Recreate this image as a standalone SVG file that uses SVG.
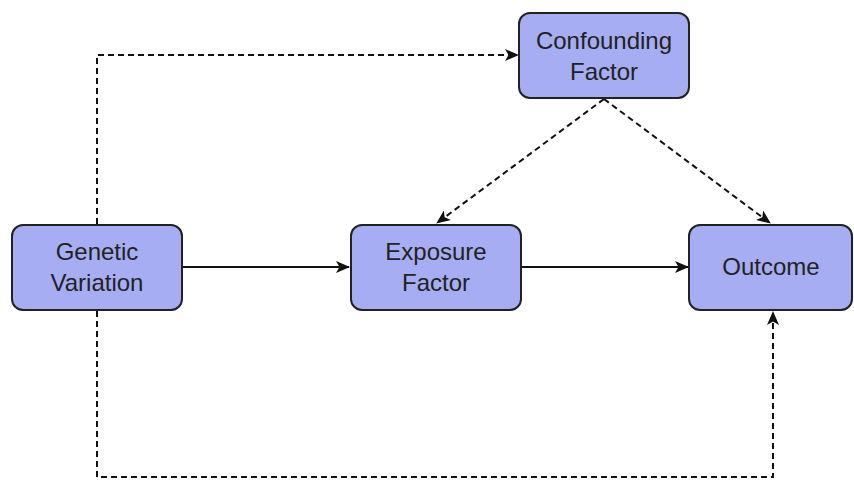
<svg xmlns="http://www.w3.org/2000/svg" width="854" height="480" viewBox="0 0 854 480">
<defs>
<style>
.node rect{fill:#a7adf2;stroke:#222;stroke-width:2}
.node text{font-family:"Liberation Sans",Arial,sans-serif;font-size:24px;fill:#222;text-anchor:middle}
.conn path{fill:none;stroke:#111;stroke-width:2}
.conn .dash{stroke-dasharray:6 4}
</style>
<marker id="arr" viewBox="0 0 14 12" refX="13" refY="6" markerWidth="14" markerHeight="12" markerUnits="userSpaceOnUse" orient="auto">
<path d="M0,0 L14,6 L0,12 L3.5,6 Z" fill="#111"/>
</marker>
</defs>
<rect width="854" height="480" fill="#fff"/>
<g id="connectors" class="conn">
<path d="M182,267 L349,267" marker-end="url(#arr)"/>
<path d="M521,267 L688,267" marker-end="url(#arr)"/>
<path class="dash" d="M97,224 L97,55 L518,55" marker-end="url(#arr)"/>
<path class="dash" d="M604,99 L437,223" marker-end="url(#arr)"/>
<path class="dash" d="M604,99 L770,223" marker-end="url(#arr)"/>
<path class="dash" d="M97,311 L97,477 L773,477 L773,312" marker-end="url(#arr)"/>
</g>
<g id="genetic" class="node">
<rect x="12" y="225" width="170" height="85" rx="11"/>
<text x="97" y="260">Genetic</text>
<text x="97" y="291">Variation</text>
</g>
<g id="exposure" class="node">
<rect x="351" y="225" width="170" height="85" rx="11"/>
<text x="436" y="260">Exposure</text>
<text x="436" y="291">Factor</text>
</g>
<g id="outcome" class="node">
<rect x="689" y="225" width="163" height="85" rx="11"/>
<text x="771" y="275">Outcome</text>
</g>
<g id="confounding" class="node">
<rect x="519" y="13" width="170" height="85" rx="11"/>
<text x="604" y="49">Confounding</text>
<text x="604" y="80">Factor</text>
</g>
</svg>
